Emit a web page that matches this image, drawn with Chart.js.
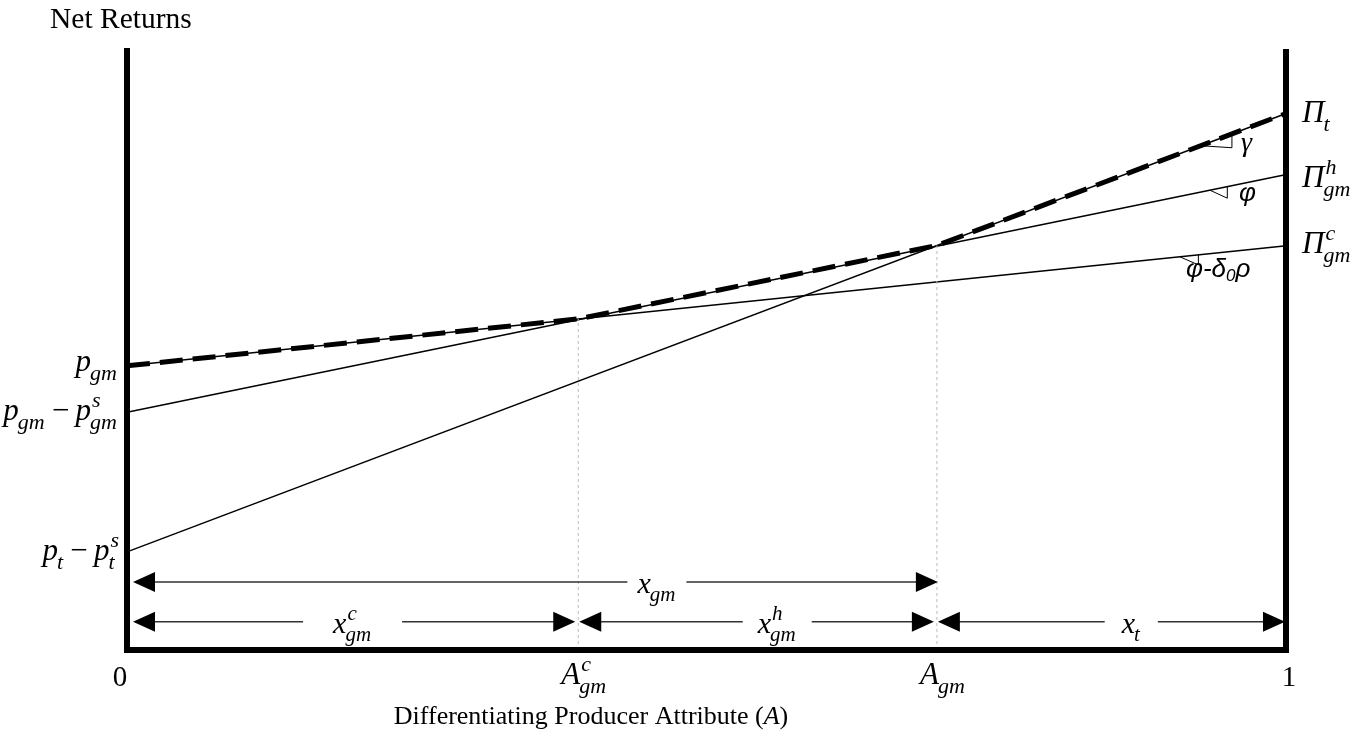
<!DOCTYPE html>
<html>
<head>
<meta charset="utf-8">
<script src="https://cdn.jsdelivr.net/npm/chart.js@4"></script>
<style>
  body { margin: 0; background: #fff; }
  #wrap { width: 1365px; height: 744px; }
</style>
</head>
<body>
<div id="wrap"><canvas id="chart" width="1365" height="744"></canvas></div>
<script>
// net return lines, values at A = 0 and A = 1
const lineNames = ["Pi_t", "Pi_gm^h", "Pi_gm^c"];
const valuesAtZero = [1.63, 3.95, 4.72];
const valuesAtOne = [8.90, 7.89, 6.71];

// upper envelope (dashed)
const envelopeA = [0, 0.39, 0.70, 1];
const envelopeValues = [4.72, 5.50, 6.72, 8.90];

// cut-off attributes A^c_gm and A_gm
const cutoffs = [0.39, 0.70];

// share arrows under the lines
const arrowFrom = [0, 0, 0.39, 0.70];
const arrowTo = [0.70, 0.39, 0.70, 1];
const arrowLevel = [1.13, 0.47, 0.47, 0.47];
const arrowLabelAt = [0.458, 0.195, 0.562, 0.868];

// small angle markers near the right edge
const markerFrom = [0.928, 0.936, 0.910];
const markerTo = [0.955, 0.951, 0.926];

const SERIF = '"Liberation Serif", "Times New Roman", serif';
const SANS = '"Liberation Sans", Arial, sans-serif';

// draw text with sub/superscripts: parts = [[base, sub, sup, italic]]
function mathText(ctx, x, y, parts, size, align) {
  const small = Math.round(size * 0.7);
  const widths = parts.map(p => {
    ctx.font = (p[3] === false ? "" : "italic ") + size + "px " + SERIF;
    const bw = ctx.measureText(p[0]).width;
    ctx.font = "italic " + small + "px " + SERIF;
    const sw = p[1] ? ctx.measureText(p[1]).width : 0;
    const uw = p[2] ? ctx.measureText(p[2]).width : 0;
    return [bw, Math.max(sw, uw)];
  });
  const total = widths.reduce((s, w) => s + w[0] + w[1], 0);
  let cx = align === "right" ? x - total : align === "center" ? x - total / 2 : x;
  ctx.textAlign = "left";
  ctx.textBaseline = "alphabetic";
  parts.forEach((p, i) => {
    ctx.font = (p[3] === false ? "" : "italic ") + size + "px " + SERIF;
    ctx.fillText(p[0], cx, y);
    cx += widths[i][0];
    ctx.font = "italic " + small + "px " + SERIF;
    if (p[1]) ctx.fillText(p[1], cx - 1, y + size * 0.28);
    if (p[2]) ctx.fillText(p[2], cx + 1, y - size * 0.42);
    cx += widths[i][1];
  });
  return total;
}

const MINUS = "\u2009\u2212\u2009";
const leftLabels = [
  [["p", "t"], [MINUS, null, null, false], ["p", "t", "s"]],
  [["p", "gm"], [MINUS, null, null, false], ["p", "gm", "s"]],
  [["p", "gm"]]
];
const rightLabels = [
  [["\u03A0", "t"]],
  [["\u03A0", "gm", "h"]],
  [["\u03A0", "gm", "c"]]
];
const arrowLabels = [
  [["x", "gm"]],
  [["x", "gm", "c"]],
  [["x", "gm", "h"]],
  [["x", "t"]]
];
const cutoffLabels = [
  [["A", "gm", "c"]],
  [["A", "gm"]]
];

const overlay = {
  id: "overlay",
  afterDatasetsDraw(chart) {
    const ctx = chart.ctx;
    const xs = chart.scales.x, ys = chart.scales.y;
    const area = chart.chartArea;
    const px = v => xs.getPixelForValue(v);
    const py = v => ys.getPixelForValue(v);
    const lineAt = (i, a) => valuesAtZero[i] + (valuesAtOne[i] - valuesAtZero[i]) * a;
    ctx.save();
    ctx.fillStyle = "#000";
    ctx.strokeStyle = "#000";

    // thick axes
    const xr = area.right + 2;
    ctx.fillRect(area.left - 3, area.top, 6, area.bottom - area.top + 3);
    ctx.fillRect(xr - 3, area.top + 1, 6, area.bottom - area.top + 2);
    ctx.fillRect(area.left - 3, area.bottom - 3, xr - area.left + 6, 6);

    // angle markers
    ctx.lineWidth = 1;
    const drops = [2, 8, 8];
    markerFrom.forEach((a1, i) => {
      const a2 = markerTo[i];
      const y1 = py(lineAt(i, a1));
      ctx.beginPath();
      ctx.moveTo(px(a1), y1);
      ctx.lineTo(px(a2), y1 + drops[i]);
      ctx.lineTo(px(a2), py(lineAt(i, a2)));
      ctx.stroke();
    });

    // arrows
    arrowFrom.forEach((a0, i) => {
      const a1 = arrowTo[i];
      const y = py(arrowLevel[i]);
      const x0 = px(a0) + (a0 === 0 ? 6 : 1);
      const x1 = px(a1) - (a1 === 1 ? -1 : (i === 0 ? -1 : 3)) ;
      const lx = px(arrowLabelAt[i]);
      const w = mathText(ctx, -1000, -1000, arrowLabels[i], 30, "center");
      const pad = [10, 30, 15, 17][i];
      ctx.strokeStyle = "#333";
      ctx.lineWidth = 1.5;
      ctx.beginPath();
      ctx.moveTo(x0 + 10, y);
      ctx.lineTo(lx - w / 2 - pad, y);
      ctx.moveTo(lx + w / 2 + pad, y);
      ctx.lineTo(x1 - 10, y);
      ctx.stroke();
      ctx.fillStyle = "#000";
      ctx.beginPath();
      ctx.moveTo(x0, y);
      ctx.lineTo(x0 + 22, y - 10);
      ctx.lineTo(x0 + 22, y + 10);
      ctx.closePath();
      ctx.fill();
      ctx.beginPath();
      ctx.moveTo(x1, y);
      ctx.lineTo(x1 - 22, y - 10);
      ctx.lineTo(x1 - 22, y + 10);
      ctx.closePath();
      ctx.fill();
      mathText(ctx, lx, y + 11, arrowLabels[i], 30, "center");
    });

    // left labels
    ctx.fillStyle = "#000";
    const leftOffsets = [8, 8, 5];
    valuesAtZero.forEach((v, i) => {
      mathText(ctx, area.left - 9, py(v) + leftOffsets[i], leftLabels[i], 31, "right");
    });
    // right labels
    const rightOffsets = [8, 12, 7];
    valuesAtOne.forEach((v, i) => {
      mathText(ctx, xr + 16, py(v) + rightOffsets[i], rightLabels[i], 31, "left");
    });

    // angle labels
    ctx.textAlign = "left";
    ctx.textBaseline = "alphabetic";
    ctx.font = "italic 28px " + SERIF;
    ctx.fillText("\u03B3", 1241, py(lineAt(0, 0.955)) + 17);
    ctx.font = "italic 26px " + SANS;
    ctx.fillText("\u03C6", 1239, py(lineAt(1, 0.951)) + 14);
    let tx = 1186, ty = py(lineAt(2, 0.926)) + 22;
    ctx.fillText("\u03C6-\u03B4", tx, ty);
    tx += ctx.measureText("\u03C6-\u03B4").width;
    ctx.font = "italic 17px " + SANS;
    ctx.fillText("0", tx, ty + 4);
    tx += ctx.measureText("0").width;
    ctx.font = "italic 26px " + SANS;
    ctx.fillText("\u03C1", tx, ty);

    // x tick labels
    ctx.font = "29px " + SERIF;
    ctx.textAlign = "center";
    ctx.fillText("0", area.left - 7, 686);
    ctx.fillText("1", xr + 3, 686);
    cutoffs.forEach((c, i) => mathText(ctx, px(c) + 6, 684, cutoffLabels[i], 31, "center"));

    // axis titles
    ctx.textAlign = "left";
    ctx.font = "29.5px " + SERIF;
    ctx.fillText("Net Returns", 50, 28);
    ctx.font = "26px " + SERIF;
    const t1 = "Differentiating Producer Attribute (";
    const w1 = ctx.measureText(t1).width;
    ctx.font = "italic 26px " + SERIF;
    const w2 = ctx.measureText("A").width;
    ctx.font = "26px " + SERIF;
    const w3 = ctx.measureText(")").width;
    let sx = 591 - (w1 + w2 + w3) / 2;
    ctx.fillText(t1, sx, 724);
    ctx.font = "italic 26px " + SERIF;
    ctx.fillText("A", sx + w1, 724);
    ctx.font = "26px " + SERIF;
    ctx.fillText(")", sx + w1 + w2, 724);
    ctx.restore();
  }
};

const datasets = [];
cutoffs.forEach((c, i) => {
  datasets.push({
    data: [{ x: c, y: 0 }, { x: c, y: envelopeValues[i + 1] }],
    borderColor: "#bbbbbb", borderWidth: 1, borderDash: [3, 3]
  });
});
lineNames.forEach((n, i) => {
  datasets.push({
    label: n,
    data: [{ x: 0, y: valuesAtZero[i] }, { x: 1, y: valuesAtOne[i] }],
    borderColor: "#000", borderWidth: 1.5
  });
});
datasets.push({
  label: "envelope",
  data: envelopeA.map((a, i) => ({ x: a, y: envelopeValues[i] })),
  borderColor: "#000", borderWidth: 5, borderDash: [23, 10]
});
datasets.forEach(d => { d.showLine = true; d.pointRadius = 0; d.fill = false; d.clip = false; });

new Chart(document.getElementById("chart"), {
  type: "scatter",
  data: { datasets },
  options: {
    responsive: false,
    animation: false,
    layout: { padding: { left: 127, right: 81, top: 48, bottom: 94 } },
    plugins: { legend: { display: false }, tooltip: { enabled: false } },
    scales: {
      x: { type: "linear", min: 0, max: 1, display: false },
      y: { type: "linear", min: 0, max: 10, display: false }
    }
  },
  plugins: [overlay]
});
</script>
</body>
</html>
